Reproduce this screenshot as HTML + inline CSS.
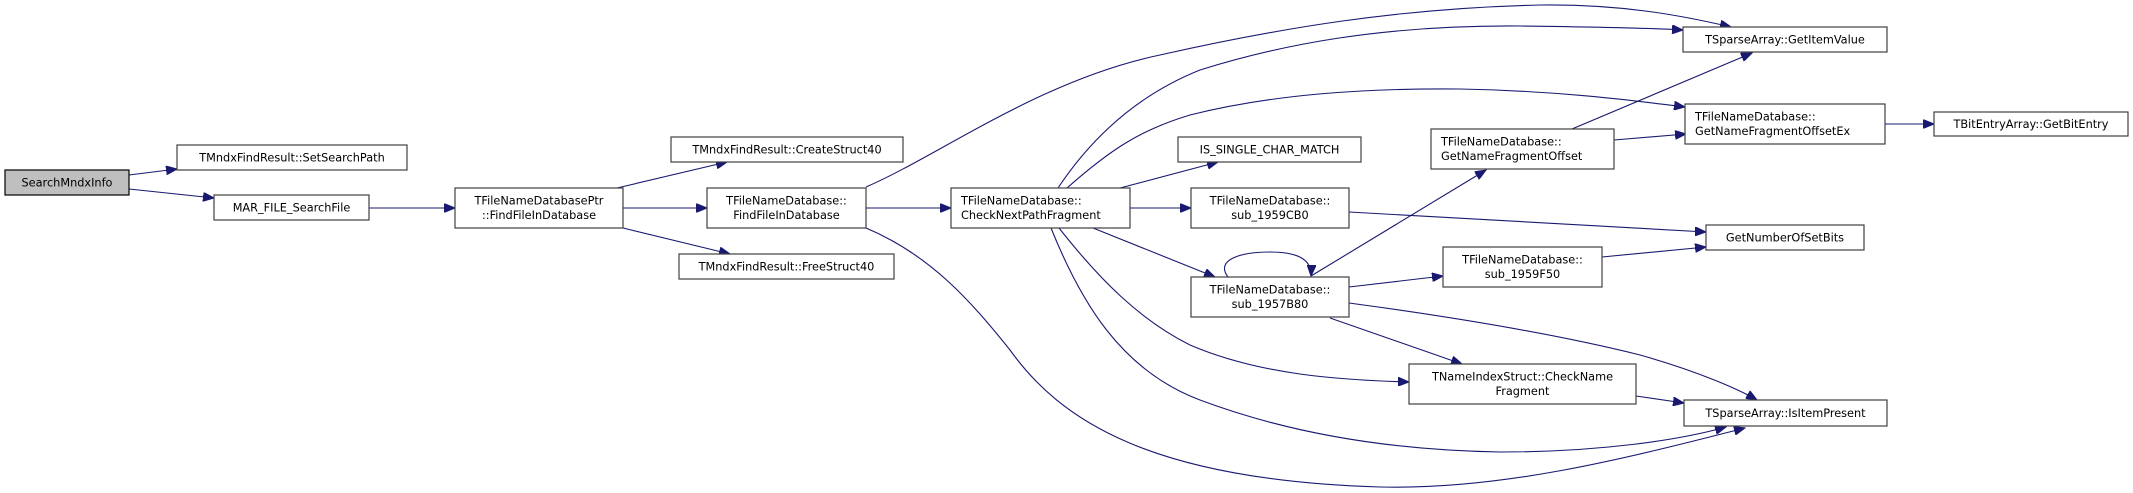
<!DOCTYPE html>
<html><head><meta charset="utf-8"><style>
html,body{margin:0;padding:0;background:#fff;}
svg{display:block;}
text{font-family:"DejaVu Sans","Liberation Sans",sans-serif;font-size:11.3px;fill:#000;}
.n{fill:#fff;stroke:#404040;stroke-width:1.2;}
.e{fill:none;stroke:#191970;stroke-width:1.1;}
</style></head><body>
<svg width="2133" height="493" viewBox="0 0 2133 493" xmlns="http://www.w3.org/2000/svg">
<defs>
<marker id="a" markerUnits="userSpaceOnUse" markerWidth="12" markerHeight="9" refX="11" refY="4.5" orient="auto">
<path d="M0,0 L11,4.5 L0,9 Z" fill="#191970" stroke="#191970"/>
</marker>
</defs>
<!-- edges -->
<g class="e" marker-end="url(#a)">
<path d="M129,175 L177,169"/>
<path d="M129,189 L214,198"/>
<path d="M369,208 L455,208"/>
<path d="M617,188 L727,162"/>
<path d="M623,208 L707,208"/>
<path d="M623,228 L730,254"/>
<path d="M866,187 C940,155 1040,80 1160,55 C1280,28 1400,8 1540,5 C1620,4 1680,15 1731,27"/>
<path d="M866,208 L951,208"/>
<path d="M866,228 C930,255 970,300 1010,350 C1060,420 1150,480 1380,487 C1500,490 1620,460 1745,428"/>
<path d="M1058,188 C1100,125 1150,90 1200,70 C1280,45 1380,25 1520,26 C1600,27 1650,28 1683,30"/>
<path d="M1067,188 C1110,150 1140,130 1190,115 C1270,95 1360,88 1460,89 C1560,91 1630,100 1685,107"/>
<path d="M1120,188 L1218,162"/>
<path d="M1130,208 L1191,208"/>
<path d="M1093,228 L1215,277"/>
<path d="M1059,228 C1100,280 1140,320 1190,345 C1260,375 1340,380 1409,382"/>
<path d="M1051,228 C1080,300 1120,370 1200,400 C1280,430 1380,450 1500,452 C1600,452 1680,440 1726,427"/>
<path d="M1349,212 L1706,232"/>
<path d="M1311,276 L1486,170"/>
<path d="M1228,277 C1215,260 1240,252 1270,252 C1295,252 1312,258 1311,276"/>
<path d="M1349,287 L1443,276"/>
<path d="M1349,303 C1460,318 1560,335 1640,355 C1700,372 1740,390 1757,400"/>
<path d="M1330,318 L1462,364"/>
<path d="M1572,129 L1752,53"/>
<path d="M1614,140 L1686,134"/>
<path d="M1885,124 L1934,124"/>
<path d="M1602,257 L1706,247"/>
<path d="M1636,396 L1684,403"/>
</g>
<!-- nodes -->
<rect x="5" y="170" width="124" height="25" fill="#bfbfbf" stroke="#000" stroke-width="1.2"/>
<text x="67" y="186.5" text-anchor="middle">SearchMndxInfo</text>

<rect class="n" x="177" y="145" width="230" height="25"/>
<text x="292" y="161.5" text-anchor="middle">TMndxFindResult::SetSearchPath</text>

<rect class="n" x="214" y="195" width="155" height="25"/>
<text x="291.5" y="211.5" text-anchor="middle">MAR_FILE_SearchFile</text>

<rect class="n" x="455" y="188" width="168" height="40"/>
<text x="539" y="204.5" text-anchor="middle">TFileNameDatabasePtr</text>
<text x="539" y="219" text-anchor="middle">::FindFileInDatabase</text>

<rect class="n" x="671" y="137" width="232" height="25"/>
<text x="787" y="153.5" text-anchor="middle">TMndxFindResult::CreateStruct40</text>

<rect class="n" x="707" y="188" width="159" height="40"/>
<text x="786.5" y="204.5" text-anchor="middle">TFileNameDatabase::</text>
<text x="786.5" y="219" text-anchor="middle">FindFileInDatabase</text>

<rect class="n" x="679" y="254" width="215" height="25"/>
<text x="786.5" y="270.5" text-anchor="middle">TMndxFindResult::FreeStruct40</text>

<rect class="n" x="951" y="188" width="179" height="40"/>
<text x="961" y="204.5">TFileNameDatabase::</text>
<text x="961" y="219">CheckNextPathFragment</text>

<rect class="n" x="1178" y="137" width="183" height="25"/>
<text x="1269.5" y="153.5" text-anchor="middle">IS_SINGLE_CHAR_MATCH</text>

<rect class="n" x="1191" y="188" width="158" height="40"/>
<text x="1270" y="204.5" text-anchor="middle">TFileNameDatabase::</text>
<text x="1270" y="219" text-anchor="middle">sub_1959CB0</text>

<rect class="n" x="1191" y="277" width="158" height="40"/>
<text x="1270" y="293.5" text-anchor="middle">TFileNameDatabase::</text>
<text x="1270" y="308" text-anchor="middle">sub_1957B80</text>

<rect class="n" x="1683" y="27" width="204" height="25"/>
<text x="1785" y="43.5" text-anchor="middle">TSparseArray::GetItemValue</text>

<rect class="n" x="1685" y="104" width="200" height="40"/>
<text x="1695" y="120.5">TFileNameDatabase::</text>
<text x="1695" y="135">GetNameFragmentOffsetEx</text>

<rect class="n" x="1934" y="112" width="194" height="24"/>
<text x="2031" y="128" text-anchor="middle">TBitEntryArray::GetBitEntry</text>

<rect class="n" x="1431" y="129" width="183" height="40"/>
<text x="1441" y="145.5">TFileNameDatabase::</text>
<text x="1441" y="160">GetNameFragmentOffset</text>

<rect class="n" x="1706" y="225" width="158" height="25"/>
<text x="1785" y="241.5" text-anchor="middle">GetNumberOfSetBits</text>

<rect class="n" x="1443" y="247" width="159" height="40"/>
<text x="1522.5" y="263.5" text-anchor="middle">TFileNameDatabase::</text>
<text x="1522.5" y="278" text-anchor="middle">sub_1959F50</text>

<rect class="n" x="1409" y="364" width="227" height="40"/>
<text x="1522.5" y="380.5" text-anchor="middle">TNameIndexStruct::CheckName</text>
<text x="1522.5" y="395" text-anchor="middle">Fragment</text>

<rect class="n" x="1684" y="400" width="203" height="26"/>
<text x="1785.5" y="417" text-anchor="middle">TSparseArray::IsItemPresent</text>
</svg>
</body></html>
